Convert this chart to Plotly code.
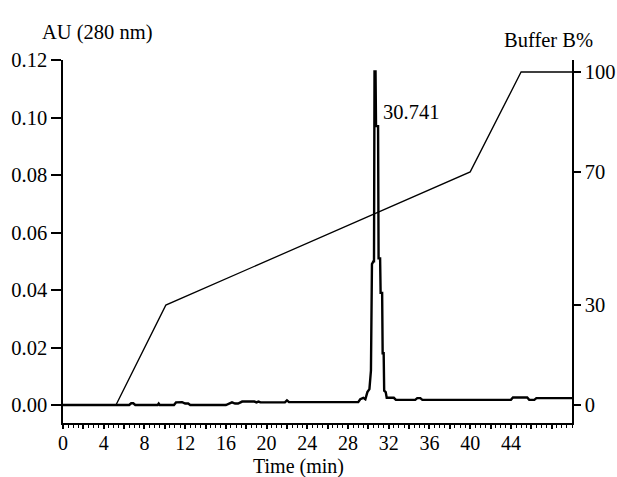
import plotly.graph_objects as go

# --- data ---
time_au = [0, 5.0, 6.5, 6.7, 6.9, 7.1, 9.3, 9.4, 9.5, 10.9, 11.1, 11.7, 12.0, 12.3, 12.5,
           16.0, 16.3, 16.6, 16.9, 17.2, 17.6, 18.8, 19.0, 19.2, 19.4, 21.8, 22.0, 22.2,
           29.0, 29.2, 29.5, 29.7, 29.9, 30.1, 30.25, 30.35, 30.5, 30.55, 30.6, 30.7,
           30.75, 30.95, 31.0, 31.15, 31.2, 31.35, 31.4, 31.5, 31.55, 31.7, 31.8, 32.5,
           32.7, 34.6, 34.8, 35.1, 35.3, 44.0, 44.2, 45.6, 45.8, 46.3, 46.5, 50.0]
absorbance = [0, 0, 0, 0.0006, 0.0006, 0, 0, 0.0005, 0, 0, 0.0009, 0.0010, 0.0005, 0.0005, 0,
              0, 0.0006, 0.0009, 0.0005, 0.0005, 0.0012, 0.0012, 0.0009, 0.0012, 0.0009, 0.0009, 0.0016, 0.0010,
              0.0010, 0.0020, 0.0025, 0.0020, 0.0045, 0.0055, 0.012, 0.049, 0.050, 0.050, 0.116, 0.116,
              0.097, 0.097, 0.051, 0.051, 0.039, 0.039, 0.018, 0.018, 0.005, 0.0045, 0.0025, 0.0025,
              0.0018, 0.0018, 0.0024, 0.0024, 0.0018, 0.0018, 0.0026, 0.0026, 0.0018, 0.0018, 0.0024, 0.0024]

time_grad = [0, 5.2, 10.1, 40.0, 45.0, 50.0]
buffer_b = [0, 0, 30, 70, 100, 100]

peak_time = 30.741
peak_label_y = 0.102

x_tickvals = [0, 2, 4, 6, 8, 10, 12, 14, 16, 18, 20, 22, 24, 26, 28, 30, 32, 34, 36, 38, 40, 42, 44, 46, 48]
x_ticktext = ["0", "", "4", "", "8", "", "12", "", "16", "", "20", "", "24", "", "28", "", "32", "", "36", "", "40", "", "44", "", ""]
y_tickvals = [0.00, 0.02, 0.04, 0.06, 0.08, 0.10, 0.12]
y2_tickvals = [0, 30, 70, 100]

FONT = "Liberation Serif, Times New Roman, serif"
FS = 20.5

# plot area in pixels
L, R, T, B = 63, 572, 60, 423
W, H = 617, 477

def px(x):
    return (x - L) / (R - L)

def py(y):
    return (B - y) / (B - T)

fig = go.Figure()
fig.add_trace(go.Scatter(x=time_au, y=absorbance, mode="lines",
                         line=dict(color="black", width=2.4), yaxis="y", showlegend=False))
fig.add_trace(go.Scatter(x=time_grad, y=buffer_b, mode="lines",
                         line=dict(color="black", width=1.3), yaxis="y2", showlegend=False))

fig.update_layout(
    width=W, height=H,
    margin=dict(l=L, r=W - R, t=T, b=H - B, autoexpand=False),
    paper_bgcolor="white", plot_bgcolor="white",
    font=dict(family=FONT, size=FS, color="black"),
    xaxis=dict(range=[0, 50], tickvals=x_tickvals, ticktext=x_ticktext, automargin=False,
               ticks="outside", ticklen=4, tickwidth=1.5, tickcolor="black",
               ticklabelstandoff=-3,
               minor=dict(dtick=0.5, ticks="outside", ticklen=3, tickwidth=1, tickcolor="black"),
               showline=True, linecolor="black", linewidth=1.5, showgrid=False, zeroline=False,
               tickfont=dict(size=20)),
    yaxis=dict(range=[-0.00626, 0.12], tickvals=y_tickvals, tickformat=".2f", automargin=False,
               ticks="outside", ticklen=10, tickwidth=1.5, tickcolor="black",
               showline=True, linecolor="black", linewidth=1.5, showgrid=False, zeroline=False,
               tickfont=dict(size=FS)),
    yaxis2=dict(range=[-5.4, 103.6], tickvals=y2_tickvals, overlaying="y", side="right",
                automargin=False,
                ticks="outside", ticklen=7, tickwidth=1.5, tickcolor="black",
                showline=True, linecolor="black", linewidth=1.5, showgrid=False, zeroline=False,
                tickfont=dict(size=FS)),
    annotations=[
        dict(x=px(97), y=py(32), xref="paper", yref="paper", text="AU (280 nm)",
             showarrow=False, font=dict(size=FS), xanchor="center", yanchor="middle"),
        dict(x=px(548), y=py(40), xref="paper", yref="paper", text="Buffer B%",
             showarrow=False, font=dict(size=FS), xanchor="center", yanchor="middle"),
        dict(x=px(298), y=py(466), xref="paper", yref="paper", text="Time (min)",
             showarrow=False, font=dict(size=20), xanchor="center", yanchor="middle"),
        dict(x=peak_time + 0.45, y=peak_label_y, xref="x", yref="y", text="30.741",
             showarrow=False, font=dict(size=FS), xanchor="left", yanchor="middle"),
    ],
)

fig.write_html("out.html")
